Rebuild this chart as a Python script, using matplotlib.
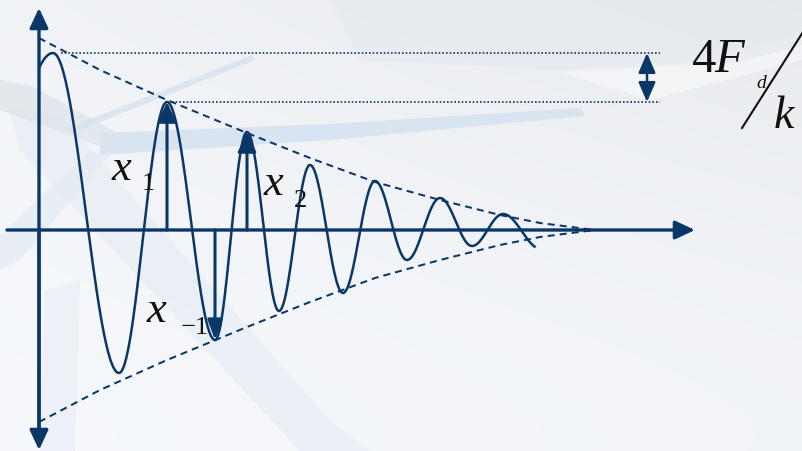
import numpy as np
import matplotlib
matplotlib.use('Agg')
import matplotlib.pyplot as plt
from matplotlib.patches import Polygon

navy = '#0b3768'

# extrema of the oscillation (time, displacement); first / last points are
# virtual ones used only to shape the curve ends
t_ext = [-0.52, 0.14, 0.80, 1.28, 1.76, 2.08, 2.40, 2.71, 3.04, 3.36, 3.68, 4.01, 4.33, 4.64, 5.02]
x_ext = [0.37, 1.77, -1.43, 1.28, -1.10, 0.98, -0.81, 0.65, -0.63, 0.49, -0.30, 0.32, -0.16, 0.16, -0.19]
t_start = 0.0
t_end = 4.96

# envelope (dashed) amplitude vs time
env_t = [0.0, 0.61, 1.28, 2.08, 2.71, 3.36, 4.01, 4.61, 5.01, 5.56]
env_a = [1.92, 1.60, 1.30, 0.97, 0.72, 0.48, 0.30, 0.15, 0.07, 0.0]

# indices of the marked extrema
i_x1 = 3
i_xm1 = 4
i_x2 = 5


def half_cos(ts, xs, n=60):
	tt, xx = [], []
	for k in range(len(ts) - 1):
		s = np.linspace(0, 1, n)
		tt.append(ts[k] + (ts[k + 1] - ts[k]) * s)
		xx.append(xs[k] + (xs[k + 1] - xs[k]) * (1 - np.cos(np.pi * s)) / 2)
	return np.concatenate(tt), np.concatenate(xx)


def arrow(ax, start, end, style='-|>', lw=2.2, hl=0.6, hw=0.28):
	ax.annotate('', xy=end, xytext=start,
		arrowprops=dict(arrowstyle=style + ',head_length=%g,head_width=%g' % (hl, hw),
			mutation_scale=20, lw=lw, color=navy, shrinkA=0, shrinkB=0))


def main():
	fig = plt.figure(figsize=(8.03, 4.51), dpi=100)
	ax = fig.add_axes([0, 0, 1, 1])
	x0, x1 = -0.39, 7.64
	y0, y1 = -2.21, 2.30
	ax.set_xlim(x0, x1)
	ax.set_ylim(y0, y1)
	ax.axis('off')

	# background
	r = np.linspace(0, 1, 200)[:, None]
	c = np.linspace(0, 1, 300)[None, :]
	b = 0.985 - 0.055 * (1 - r) ** 1.5 * (0.35 + 0.65 * c) - 0.015 * r * c
	img = np.clip(np.dstack([b - 0.022, b - 0.013, b]), 0, 1)
	ax.imshow(img, extent=[x0, x1, y0, y1], origin='upper', aspect='auto', zorder=0)

	def px(p):
		return [((a - 39) / 100.0, (230 - b) / 100.0) for a, b in p]

	shapes = [
		([(100, 133), (330, 124), (581, 108), (585, 116), (330, 140), (100, 155)], '#d3e1f0', 0.8),
		([(10, 110), (60, 115), (330, 420), (370, 451), (300, 451), (20, 150)], '#e3ebf4', 0.5),
		([(0, 80), (30, 85), (130, 140), (110, 150), (0, 110)], '#dde3ea', 0.7),
		([(0, 235), (90, 150), (110, 155), (20, 260), (0, 270)], '#e2eaf4', 0.6),
		([(68, 128), (252, 55), (255, 60), (72, 133)], '#d3e1f0', 0.7),
		([(45, 290), (80, 280), (75, 451), (40, 451)], '#e8eef6', 0.6),
		([(330, 0), (803, 0), (803, 35), (700, 60), (560, 70), (360, 60)], '#e5e9ee', 0.6),
		([(560, 72), (740, 62), (803, 45), (803, 60), (650, 100)], '#f8f9fb', 0.6),
	]
	for pts, col, a in shapes:
		ax.add_patch(Polygon(px(pts), closed=True, fc=col, ec='none', alpha=a, zorder=1))

	# envelope
	ea = np.array(env_a)
	ax.plot(env_t, ea, color=navy, lw=1.45, dashes=(3.5, 2.5), zorder=3)
	ax.plot(env_t, -ea, color=navy, lw=1.45, dashes=(3.5, 2.5), zorder=3)

	# dotted reference levels
	ax.plot([0.22, 6.21], [x_ext[1], x_ext[1]], color=navy, lw=1.2, ls=(0, (1, 1.2)), zorder=3)
	ax.plot([1.33, 6.21], [x_ext[i_x1], x_ext[i_x1]], color=navy, lw=1.2, ls=(0, (1, 1.2)), zorder=3)

	# response curve
	tt, xx = half_cos(t_ext, x_ext)
	m = (tt >= t_start) & (tt <= t_end)
	ax.plot(tt[m], xx[m], color=navy, lw=1.8, zorder=4)

	# axes with arrows
	arrow(ax, (0, -2.0), (0, 2.22), lw=2.4)
	arrow(ax, (0, 0), (0, -2.20), lw=2.4)
	arrow(ax, (-0.32, 0), (6.56, 0), lw=2.4)

	# amplitude markers
	arrow(ax, (t_ext[i_x1], 0), (t_ext[i_x1], x_ext[i_x1]))
	arrow(ax, (t_ext[i_x2], 0), (t_ext[i_x2], x_ext[i_x2]))
	arrow(ax, (t_ext[i_xm1], 0), (t_ext[i_xm1], x_ext[i_xm1]), hw=0.22)

	# 4Fd/k step
	arrow(ax, (6.08, x_ext[1]), (6.08, x_ext[i_x1]), style='<|-|>', lw=1.8, hl=0.6, hw=0.26)

	serif = 'Liberation Serif'
	tk = dict(family=serif, color='#111111', va='baseline', ha='left', zorder=6)
	ax.text(0.73, 0.50, 'x', fontsize=32, style='italic', **tk)
	ax.text(1.03, 0.40, '1', fontsize=19, **tk)
	ax.text(2.25, 0.35, 'x', fontsize=32, style='italic', **tk)
	ax.text(2.55, 0.23, '2', fontsize=19, **tk)
	ax.text(1.08, -0.92, 'x', fontsize=32, style='italic', **tk)
	ax.text(1.42, -1.04, '\u22121', fontsize=19, **tk)

	ax.text(6.53, 1.58, '4', fontsize=35, **tk)
	ax.text(6.75, 1.58, 'F', fontsize=35, style='italic', **tk)
	ax.text(7.17, 1.42, 'd', fontsize=14, style='italic', **tk)
	ax.text(7.35, 1.02, 'k', fontsize=33, style='italic', **tk)
	ax.plot([7.03, 7.64], [1.02, 1.98], color='#111111', lw=1.5, zorder=6)

	fig.savefig('out.png', dpi=100)


if __name__ == "__main__":
	main()
